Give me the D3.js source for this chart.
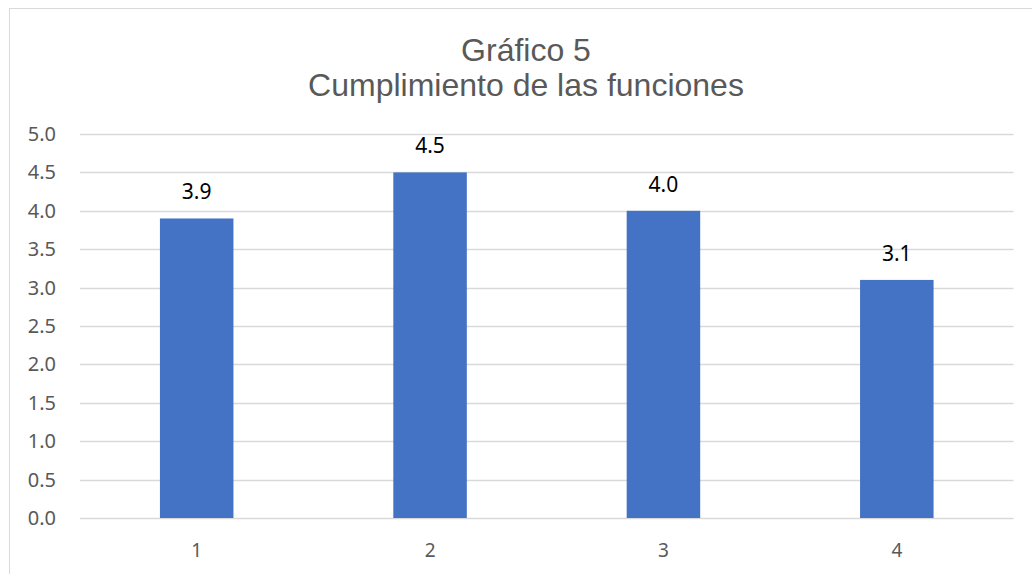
<!DOCTYPE html>
<html><head><meta charset="utf-8">
<script src="https://cdn.jsdelivr.net/npm/d3@7"></script>
<style>body{margin:0;background:#fff}svg{display:block}</style>
</head><body>
<svg id="c" width="1032" height="574"></svg>
<script>
const categories = ["1","2","3","4"];
const values = [3.9, 4.5, 4.0, 3.1];
const yTicks = [0,0.5,1,1.5,2,2.5,3,3.5,4,4.5,5];
const titleLines = ["Gráfico 5","Cumplimiento de las funciones"];

const svg = d3.select("#c");
svg.append("rect").attr("x",9.5).attr("y",8.5).attr("width",1040).attr("height",600)
  .attr("fill","#fff").attr("stroke","#d9d9d9").attr("stroke-width",1);

const x = d3.scaleBand().domain(categories).range([80,1013.5]).paddingInner(0.685).paddingOuter(0.3425);
const y = d3.scaleLinear().domain([0,5]).range([518,134]);

const grid = svg.append("g");
grid.selectAll("line").data(yTicks).join("line")
  .attr("x1",80).attr("x2",1013.5)
  .attr("y1",d=>Math.round(y(d))+0.5).attr("y2",d=>Math.round(y(d))+0.5)
  .attr("stroke","#d9d9d9").attr("stroke-width",1.3);

const yAxis = d3.axisLeft(y).tickValues(yTicks).tickFormat(d3.format(".1f")).tickSize(0).tickPadding(0);
const ya = svg.append("g").attr("transform","translate(56,0)").call(yAxis);
ya.select(".domain").remove();
ya.selectAll("text").attr("fill","#595959").style("font-family","'Noto Sans', sans-serif").style("font-size","20px");

svg.append("g").selectAll("rect").data(values).join("rect")
  .attr("x",(d,i)=>x(categories[i])).attr("width",x.bandwidth())
  .attr("y",d=>y(d)).attr("height",d=>y(0)-y(d)).attr("fill","#4472c4");

const xAxis = d3.axisBottom(x).tickSize(0).tickPadding(0);
const xa = svg.append("g").attr("transform","translate(0,543)").call(xAxis);
xa.select(".domain").remove();
xa.selectAll("text").attr("fill","#595959").attr("dy","0.71em").style("font-family","'Noto Sans', sans-serif").style("font-size","19px");

svg.append("g").selectAll("text").data(values).join("text")
  .attr("x",(d,i)=>x(categories[i])+x.bandwidth()/2).attr("y",d=>y(d)-19)
  .attr("text-anchor","middle").attr("fill","#000")
  .style("font-family","'Noto Sans', sans-serif").style("font-size","21px")
  .text(d=>d3.format(".1f")(d));

svg.append("g").selectAll("text").data(titleLines).join("text")
  .attr("x",526).attr("y",(d,i)=>61+i*35).attr("text-anchor","middle")
  .attr("fill","#595959").style("font-family","'Liberation Sans', Arial, sans-serif").style("font-size","32px")
  .text(d=>d);
</script>
</body></html>
